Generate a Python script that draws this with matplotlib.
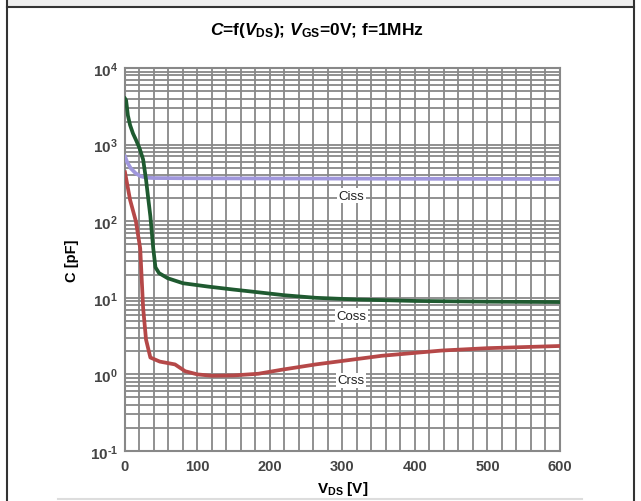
import numpy as np
import matplotlib
matplotlib.use('Agg')
import matplotlib.pyplot as plt
from matplotlib.ticker import FuncFormatter, MultipleLocator, LogLocator, NullFormatter
from matplotlib.lines import Line2D
from matplotlib.patches import Rectangle

plt.rcParams['font.family'] = ['Liberation Sans', 'DejaVu Sans']
plt.rcParams['mathtext.fontset'] = 'custom'
plt.rcParams['mathtext.rm'] = 'Liberation Sans:bold'
plt.rcParams['mathtext.bf'] = 'Liberation Sans:bold'
plt.rcParams['mathtext.it'] = 'Liberation Sans:bold:italic'
plt.rcParams['axes.unicode_minus'] = False

#%% data
vds_ciss = [0, 3, 8, 15, 22, 30, 40, 100, 200, 300, 400, 500, 600]
ciss = [700, 590, 490, 420, 385, 370, 366, 363, 361, 360, 358, 357, 356]

vds_coss = [0, 1.5, 4, 7, 11, 15, 20, 25, 29, 32, 35, 39, 42, 47, 59, 80, 115, 150, 184, 220, 263, 320, 400, 500, 600]
coss = [4000, 3800, 2400, 1800, 1400, 1160, 900, 640, 350, 200, 116, 44, 25, 21, 18, 15.5, 14, 12.8, 11.8, 10.8, 10.0, 9.5, 9.1, 8.9, 8.8]

vds_crss = [0, 7, 15, 21, 25, 29, 35, 48, 69, 83, 100, 120, 150, 184, 216, 263, 300, 354, 437, 500, 600]
crss = [435, 190, 100, 44, 7.4, 2.85, 1.66, 1.47, 1.35, 1.1, 1.0, 0.96, 0.97, 1.02, 1.15, 1.35, 1.5, 1.75, 2.05, 2.2, 2.35]

curve_labels = ['Ciss', 'Coss', 'Crss']
label_x = 312
label_y = [215, 5.8, 0.84]


def decade_label(v, pos):
    e = int(round(np.log10(v)))
    if e < 0:
        return r'$\mathbf{10^{\text{-}%d}}$' % (-e)
    return r'$\mathbf{10^{%d}}$' % e

#%%
fig = plt.figure(figsize=(6.41, 5.02), dpi=100)
ax = fig.add_axes([0.195, 0.0996, 0.6786, 0.7629])

grid_col = '#888888'
ax.plot(vds_ciss, ciss, color='#a097dc', lw=2.7, zorder=3, solid_joinstyle='round')
ax.plot(vds_coss, coss, color='#1f5a30', lw=2.7, zorder=3, solid_joinstyle='round')
ax.plot(vds_crss, crss, color='#b54848', lw=2.7, zorder=3, solid_joinstyle='round')

ax.set_yscale('log')
ax.set_xlim(0, 600)
ax.set_ylim(0.1, 1e4)
ax.xaxis.set_major_locator(MultipleLocator(100))
ax.xaxis.set_minor_locator(MultipleLocator(20))
ax.yaxis.set_major_locator(LogLocator(base=10, numticks=10))
ax.yaxis.set_minor_locator(LogLocator(base=10, subs=np.arange(2, 10), numticks=20))
ax.yaxis.set_minor_formatter(NullFormatter())
ax.yaxis.set_major_formatter(FuncFormatter(decade_label))

ax.grid(True, which='both', axis='both', color=grid_col, lw=1.3)
ax.set_axisbelow(True)
for s in ax.spines.values():
    s.set_color(grid_col)
    s.set_linewidth(1.5)
ax.tick_params(which='both', length=0, labelcolor='#444444')
ax.tick_params(axis='x', pad=6, labelsize=10.5)
ax.tick_params(axis='y', pad=5, labelsize=11)
for t in ax.get_xticklabels():
    t.set_fontweight('bold')

for name, y in zip(curve_labels, label_y):
    ax.text(label_x, y, name, ha='center', va='center', fontsize=9.5, color='#222222',
            bbox=dict(facecolor='white', edgecolor='none', pad=1), zorder=4)

ax.set_ylabel('C [pF]', fontsize=10.5, fontweight='bold', labelpad=8)
ax.set_xlabel(r'V$_{\mathregular{DS}}$ [V]', fontsize=11, fontweight='bold', labelpad=4)

fig.text(0.495, 0.94, r'$\mathit{C}$=f($\mathit{V}_{\mathrm{DS}}$); $\mathit{V}_{\mathrm{GS}}$=0V; f=1MHz',
         ha='center', va='center', fontsize=12.5, fontweight='bold')

# frame around the panel
fig.add_artist(Rectangle((0.011, 0.984), 0.978, 0.02, transform=fig.transFigure,
                         facecolor='#eeeeee', edgecolor='none'))
fig.add_artist(Line2D([0.011, 0.989], [0.984, 0.984], color='#333333', lw=1.5))
fig.add_artist(Line2D([0.011, 0.011], [0, 1], color='#333333', lw=1.5))
fig.add_artist(Line2D([0.989, 0.989], [0, 1], color='#333333', lw=1.5))
fig.add_artist(Line2D([0.09, 0.908], [0.003, 0.003], color='#dddddd', lw=1.5))

fig.savefig('out.png', dpi=100)
